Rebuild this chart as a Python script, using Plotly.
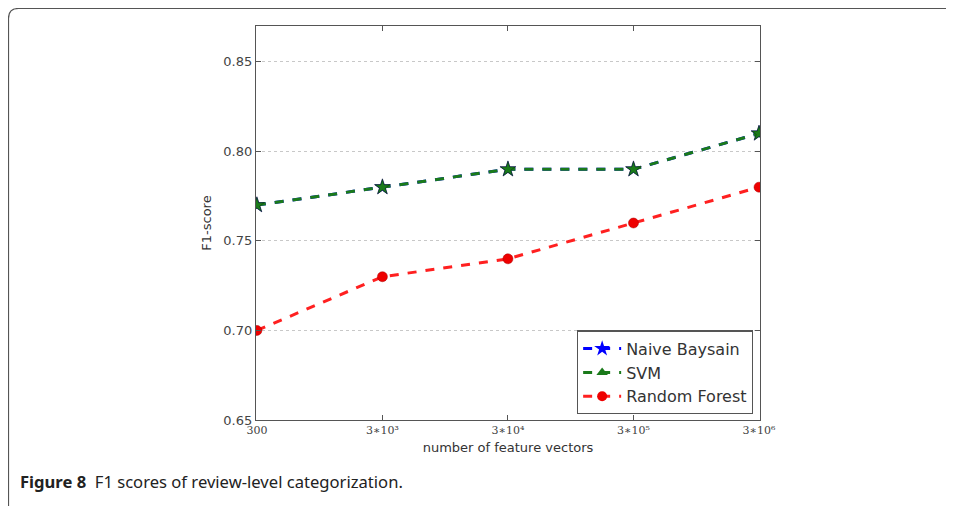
import plotly.graph_objects as go

x_vals = [300, 3000, 30000, 300000, 3000000]
x_labels = ["300", "3∗10³", "3∗10⁴", "3∗10⁵", "3∗10⁶"]
naive_bayes = [0.77, 0.78, 0.79, 0.79, 0.81]
svm = [0.77, 0.78, 0.79, 0.79, 0.81]
random_forest = [0.70, 0.73, 0.74, 0.76, 0.78]

OFF = 8  # page body margin
W, H = 954 - OFF, 506 - OFF
L, R, T, B = 256 - OFF, 760 - OFF, 26 - OFF, 420 - OFF

fig = go.Figure()
fig.add_trace(go.Scatter(x=x_vals, y=naive_bayes, mode="lines+markers", showlegend=False,
                         line=dict(color="#0000ff", width=3, dash="dash"),
                         marker=dict(symbol="star", size=12, color="#0000ff", line=dict(color="#000033", width=0.5))))
fig.add_trace(go.Scatter(x=x_vals, y=svm, mode="lines+markers", showlegend=False,
                         line=dict(color="#1a7a1a", width=3, dash="dash"),
                         marker=dict(symbol="star", size=11, color="#1a7a1a", line=dict(color="#0a300a", width=0.5))))
fig.add_trace(go.Scatter(x=x_vals, y=random_forest, mode="lines+markers", showlegend=False,
                         line=dict(color="#ff2020", width=3, dash="dash"),
                         marker=dict(symbol="circle", size=10, color="#ee0000", line=dict(color="#aa0000", width=0.5))))
fig.add_trace(go.Scatter(x=[None], y=[None], mode="lines+markers", name="Naive Baysain",
                         line=dict(color="#0000ff", width=3, dash="dash"),
                         marker=dict(symbol="star", size=12, color="#0000ff")))
fig.add_trace(go.Scatter(x=[None], y=[None], mode="lines+markers", name="SVM",
                         line=dict(color="#1a7a1a", width=3, dash="dash"),
                         marker=dict(symbol="triangle-up", size=10, color="#1a7a1a")))
fig.add_trace(go.Scatter(x=[None], y=[None], mode="lines+markers", name="Random Forest",
                         line=dict(color="#ff2020", width=3, dash="dash"),
                         marker=dict(symbol="circle", size=10, color="#ee0000")))

pw, ph = R - L, B - T
def px(x):
    return (x - OFF - L) / pw
def py(y):
    return (B - (y - OFF)) / ph

x0, y0, x1, y1 = px(OFF + 0.5), py(8.5), px(960), py(512)
r = 10 / pw
ry = 10 / ph
path = f"M {x0},{y1} L {x0},{y0 - ry} Q {x0},{y0} {x0 + r},{y0} L {x1},{y0}"
fig.add_shape(type="path", xref="paper", yref="paper", path=path,
              line=dict(color="#555555", width=1.2), layer="below")

fig.add_annotation(text="<b>Figure 8</b>  F1 scores of review-level categorization.",
                   xref="paper", yref="paper", x=px(18), y=py(482), xanchor="left", yanchor="middle",
                   showarrow=False, font=dict(family="Noto Sans", size=16.6, color="#222222"))

fig.update_layout(
    width=W, height=H,
    margin=dict(l=L, r=W - R, t=T, b=H - B),
    paper_bgcolor="white", plot_bgcolor="white",
    font=dict(family="DejaVu Sans", color="#333333"),
    showlegend=True,
    legend=dict(x=0.986, y=0.014, xanchor="right", yanchor="bottom",
                bgcolor="white", bordercolor="#555555", borderwidth=1.2,
                font=dict(family="DejaVu Sans", size=16, color="#333333"),
                itemwidth=38, tracegroupgap=0),
    xaxis=dict(type="log", range=[2.47, 6.485], tickvals=x_vals, ticktext=x_labels,
               ticks="inside", ticklen=5, tickcolor="#555555", mirror="ticks",
               showline=True, linecolor="#555555", linewidth=1.2, showgrid=False, zeroline=False,
               tickfont=dict(family="DejaVu Serif", size=11, color="#444444"),
               title=dict(text="number of feature vectors", font=dict(family="DejaVu Sans", size=13, color="#333333"),
                          standoff=6)),
    yaxis=dict(range=[0.65, 0.87], tickvals=[0.65, 0.70, 0.75, 0.80, 0.85],
               ticktext=["0.65", "0.70", "0.75", "0.80", "0.85"],
               ticks="inside", ticklen=5, tickcolor="#555555", mirror="ticks",
               showline=True, linecolor="#555555", linewidth=1.2,
               showgrid=True, gridcolor="#c8c8c8", griddash="dot", gridwidth=1, zeroline=False,
               tickfont=dict(family="DejaVu Sans", size=13, color="#444444"),
               title=dict(text="F1-score", font=dict(family="DejaVu Sans", size=13, color="#333333"),
                          standoff=8)),
)

fig.write_html("out.html")
